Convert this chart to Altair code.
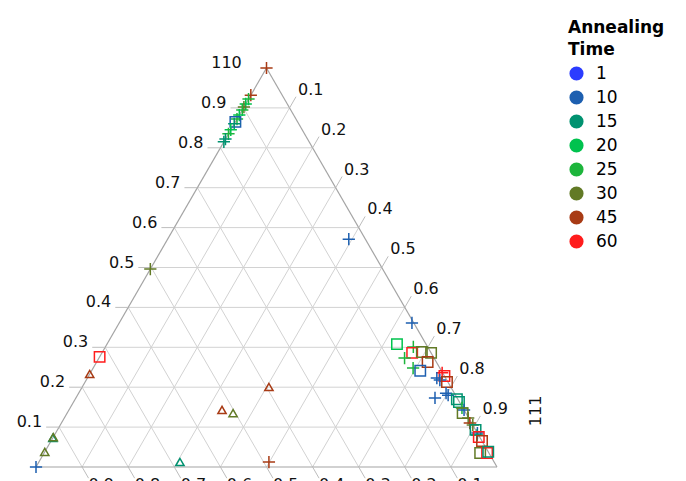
import altair as alt
import pandas as pd
import numpy as np

H = float(np.sqrt(3) / 2)

# ---- data (fractions): 110 = top, 111 = bottom-right ----
frac_110 = [1.0, 0.932, 0.922, 0.910, 0.902, 0.895, 0.882, 0.872, 0.865, 0.860,
            0.845, 0.835, 0.822, 0.815, 0.496, 0.276, 0.233, 0.073, 0.075, 0.038,
            0.0, 0.0125, 0.0125, 0.2005, 0.143, 0.135, 0.571, 0.361, 0.308, 0.301,
            0.286, 0.288, 0.286, 0.273, 0.263, 0.248, 0.241, 0.236, 0.228, 0.223,
            0.218, 0.213, 0.185, 0.173, 0.180, 0.170, 0.163, 0.148, 0.143, 0.135,
            0.123, 0.110, 0.105, 0.093, 0.085, 0.080, 0.075, 0.065, 0.035, 0.035,
            0.038]
frac_111 = [0.0, 0.0, 0.0, 0.0, 0.0, 0.0, 0.0, 0.0, 0.0, 0.0,
            0.0, 0.0, 0.0, 0.0, 0.0, 0.0, 0.0, 0.0, 0.0, 0.0,
            0.0, 0.306, 0.499, 0.405, 0.332, 0.360, 0.393, 0.635, 0.629, 0.668,
            0.673, 0.693, 0.714, 0.663, 0.718, 0.694, 0.713, 0.763, 0.772, 0.758,
            0.767, 0.785, 0.797, 0.779, 0.804, 0.828, 0.836, 0.850, 0.857, 0.858,
            0.876, 0.886, 0.895, 0.907, 0.915, 0.917, 0.923, 0.935, 0.946, 0.961,
            0.962]
anneal_time = ["45", "45", "25", "20", "30", "25", "20", "25", "10", "15",
               "20", "25", "15", "15", "30", "60", "45", "15", "30", "30",
               "10", "15", "45", "45", "45", "30", "10", "10", "20", "25",
               "60", "30", "30", "25", "45", "25", "10", "60", "60", "10",
               "10", "45", "10", "10", "10", "15", "15", "25", "10", "30",
               "30", "45", "30", "15", "10", "15", "60", "45", "30", "60",
               "15"]
marker = ["cross", "cross", "cross", "cross", "cross", "cross", "cross", "cross", "square", "cross",
          "cross", "cross", "cross", "cross", "cross", "square", "triangle", "triangle", "triangle", "triangle",
          "cross", "triangle", "cross", "triangle", "triangle", "triangle", "cross", "cross", "square", "cross",
          "square", "square", "square", "cross", "square", "cross", "square", "cross", "square", "cross",
          "cross", "square", "cross", "cross", "cross", "square", "square", "cross", "cross", "square",
          "cross", "cross", "cross", "square", "cross", "cross", "square", "square", "square", "square",
          "square"]

time_levels = ["1", "10", "15", "20", "25", "30", "45", "60"]
time_colors = ["#2b3cff", "#1d5fb0", "#009270", "#00c24e", "#1db53c", "#627a26", "#a83b15", "#ff1c1c"]

tick_values = [0.1, 0.2, 0.3, 0.4, 0.5, 0.6, 0.7, 0.8, 0.9]
tick_text = ["0.1", "0.2", "0.3", "0.4", "0.5", "0.6", "0.7", "0.8", "0.9"]
vertex_top = "110"
vertex_right = "111"

# ---- derived tables ----
pts = pd.DataFrame({"a": frac_110, "b": frac_111, "time": anneal_time, "marker": marker})
pts["c"] = 1 - pts["a"] - pts["b"]
pts["x"] = pts["b"] + pts["a"] / 2
pts["y"] = pts["a"] * H

L = 0.028  # tick length in data units
grid_rows, tick_rows, lab_left, lab_right, lab_bottom = [], [], [], [], []
for v, t in zip(tick_values, tick_text):
    # 110 = v : horizontal
    grid_rows.append({"x": v / 2, "y": v * H, "x2": 1 - v / 2, "y2": v * H})
    tick_rows.append({"x": v / 2, "y": v * H, "x2": v / 2 - L, "y2": v * H})
    lab_left.append({"x": v / 2 - L, "y": v * H, "t": t})
    # 111 = v : parallel to left edge
    ex, ey = (1 + v) / 2, (1 - v) * H
    grid_rows.append({"x": v, "y": 0, "x2": ex, "y2": ey})
    tick_rows.append({"x": ex, "y": ey, "x2": ex + 0.5 * L, "y2": ey + H * L})
    lab_right.append({"x": ex + 0.5 * L, "y": ey + H * L, "t": t})
    # 100 = v : parallel to right edge
    bx = 1 - v
    grid_rows.append({"x": bx, "y": 0, "x2": (1 - v) / 2, "y2": (1 - v) * H})
    tick_rows.append({"x": bx, "y": 0, "x2": bx + 0.5 * L, "y2": -H * L})
    lab_bottom.append({"x": bx + 0.5 * L, "y": -H * L, "t": t})

edges = pd.DataFrame({"x": [0, 1, 0.5], "y": [0, 0, H], "x2": [1, 0.5, 0], "y2": [0, H, 0]})
grid = pd.DataFrame(grid_rows)
tickdf = pd.DataFrame(tick_rows)

xs = alt.Scale(domain=[0, 1], nice=False, zero=False)
ys = alt.Scale(domain=[0, H], nice=False, zero=False)


def rules(df, color, width):
    return alt.Chart(df).mark_rule(color=color, strokeWidth=width).encode(
        x=alt.X("x:Q", scale=xs, axis=None), y=alt.Y("y:Q", scale=ys, axis=None),
        x2="x2:Q", y2="y2:Q")


def labels(rows, align, baseline, dx, dy, angle=0):
    return alt.Chart(pd.DataFrame(rows)).mark_text(
        align=align, baseline=baseline, dx=dx, dy=dy, angle=angle, font="DejaVu Sans",
        fontSize=16, color="#111111").encode(
        x=alt.X("x:Q", scale=xs, axis=None), y=alt.Y("y:Q", scale=ys, axis=None), text="t:N")


grid_l = rules(grid, "#d2d2d2", 1)
edge_l = rules(edges, "#a4a4a4", 1.2)
tick_l = rules(tickdf, "#bdbdbd", 1)
left_l = labels(lab_left, "right", "middle", -4, -5)
right_l = labels(lab_right, "left", "middle", 2, -7)
bottom_l = labels(lab_bottom, "left", "top", 0, -1)

# vertex titles: "110" beside the apex, "111" beside the right axis end
top_l = labels([{"x": 0.5, "y": H, "t": vertex_top}], "center", "middle", -40, -5)
right_title_pos = lab_right[-1]
rt_l = labels([{"x": right_title_pos["x"] + 0.121, "y": right_title_pos["y"] + 0.011, "t": vertex_right}],
              "center", "middle", 0, 0, angle=270)

color_scale = alt.Scale(domain=time_levels, range=time_colors)

points = alt.Chart(pts).mark_point(filled=False, strokeWidth=1.5, opacity=1).encode(
    x=alt.X("x:Q", scale=xs, axis=None),
    y=alt.Y("y:Q", scale=ys, axis=None),
    color=alt.Color("time:N", scale=color_scale, legend=None),
    shape=alt.Shape("marker:N", scale=alt.Scale(
        domain=["cross", "square", "triangle"],
        range=["M-1,0L1,0M0,-1L0,1", "square", "triangle-up"]), legend=None),
    size=alt.Size("marker:N", scale=alt.Scale(domain=["cross", "square", "triangle"],
                                              range=[150, 68, 175]), legend=None),
)

# legend-only layer (filtered to no rows): gives filled circle symbols
legend_l = alt.Chart(pts).transform_filter("false").mark_circle(size=200, opacity=1).encode(
    x=alt.X("x:Q", scale=xs, axis=None),
    y=alt.Y("y:Q", scale=ys, axis=None),
    color=alt.Color("time:N", scale=color_scale,
                    legend=alt.Legend(title=["Annealing", "Time"], orient="none",
                                      legendX=532, legendY=-48, symbolType="circle",
                                      symbolOpacity=1)),
)

chart = alt.layer(grid_l, edge_l, tick_l, left_l, right_l, bottom_l, top_l, rt_l, legend_l, points).properties(
    width=461, height=399,
    padding={"left": 36, "top": 68, "right": 189, "bottom": 14},
    autosize=alt.AutoSizeParams(type="none"),
).resolve_legend(color="independent").configure_view(stroke=None).configure_legend(
    padding=0, titleFont="DejaVu Sans", titleFontSize=17, titleFontWeight="bold",
    titleLineHeight=22, titlePadding=6, titleColor="black",
    labelFont="DejaVu Sans", labelFontSize=17, labelColor="black",
    symbolSize=200, rowPadding=6, labelOffset=11,
)

chart.save("out.html", embed_options={"renderer": "svg", "actions": False})
